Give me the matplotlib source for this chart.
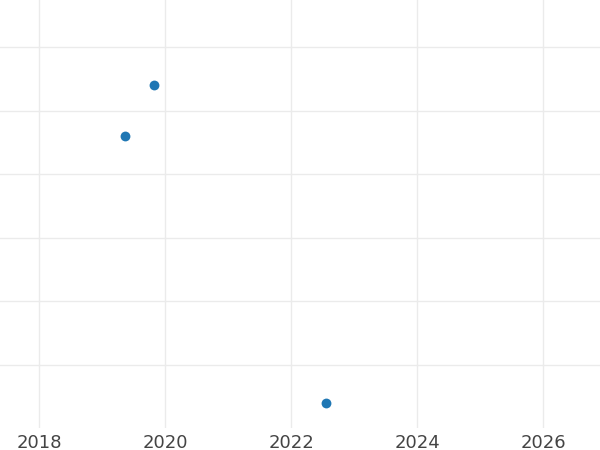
import datetime as dt
import matplotlib
matplotlib.use("Agg")
import matplotlib.pyplot as plt
import matplotlib.dates as mdates

# data
dates = [dt.date(2019, 5, 15), dt.date(2019, 10, 30), dt.date(2022, 7, 24)]
values = [46, 54, 4]

fig = plt.figure(figsize=(6, 4.5), dpi=100)
ax = fig.add_axes([0, 0.049, 1, 0.951])

ax.scatter(dates, values, s=50, color="#1f77b4", zorder=3, linewidths=0)

ax.set_xlim(dt.date(2017, 5, 19), dt.date(2026, 11, 25))
ax.set_ylim(0.1, 67.4)
ax.xaxis.set_major_locator(mdates.YearLocator(2))
ax.xaxis.set_major_formatter(mdates.DateFormatter("%Y"))
ax.set_yticks([10, 20, 30, 40, 50, 60])
ax.set_yticklabels([])

ax.grid(True, color="#ebebeb", linewidth=1)
ax.set_axisbelow(True)
for s in ax.spines.values():
    s.set_visible(False)
ax.tick_params(axis="both", length=0, labelsize=13, labelcolor="#444444", pad=4)
for lab in ax.get_xticklabels():
    lab.set_fontfamily("DejaVu Sans")

fig.savefig("out.png", dpi=100)
